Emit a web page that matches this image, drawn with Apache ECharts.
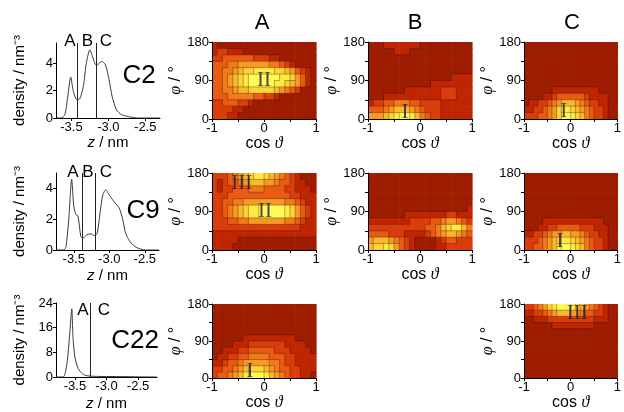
<!DOCTYPE html>
<html lang="en">
<head>
<meta charset="UTF-8">
<title>density profiles and orientation maps</title>
<script src="https://cdn.jsdelivr.net/npm/echarts@6/dist/echarts.min.js"></script>
<style>
  html, body { margin: 0; padding: 0; background: #fff; }
  #main { width: 624px; height: 412px; }
</style>
</head>
<body>
<div id="main"></div>
<script>
// density profiles: [z (nm), density (nm^-3)]
var densC2 = [[-3.71,0],[-3.64,0],[-3.59,0.24],[-3.55,1.6],[-3.51,3.0],[-3.48,2.1],[-3.44,1.4],[-3.40,1.35],
  [-3.34,2.3],[-3.30,4.0],[-3.25,5.0],[-3.21,4.4],[-3.16,3.85],[-3.09,4.15],[-3.04,3.9],[-2.99,2.8],
  [-2.95,1.6],[-2.89,0.6],[-2.82,0.24],[-2.71,0.08],[-2.60,0],[-2.30,0]];
var densC9 = [[-3.75,0],[-3.64,0],[-3.61,0.22],[-3.57,2.0],[-3.53,4.6],[-3.50,2.85],[-3.47,2.3],[-3.44,2.2],
  [-3.40,0.87],[-3.37,0.77],[-3.32,0.98],[-3.26,1.05],[-3.21,0.94],[-3.17,1.09],[-3.13,2.4],[-3.09,3.6],
  [-3.05,3.9],[-2.99,3.5],[-2.92,3.06],[-2.86,2.73],[-2.81,1.97],[-2.77,1.09],[-2.71,0.55],[-2.62,0.17],
  [-2.49,0],[-2.30,0]];
var densC22 = [[-3.80,0],[-3.69,0],[-3.66,0.74],[-3.62,5.4],[-3.58,14.7],[-3.55,22.1],[-3.53,12.6],[-3.50,6.4],
  [-3.45,2.8],[-3.38,1.03],[-3.31,0.41],[-3.16,0.2],[-2.84,0.15],[-2.48,0.05],[-2.20,0]];

// region borders along z
var bordersC2 = [-3.42, -3.16];
var bordersC9 = [-3.38, -3.20];
var bordersC22 = [-3.25];

var zTicks = [-3.5, -3.0, -2.5];
var cosLabels = [-1, 0, 1];
var cosTicks = [-1, -0.5, 0, 0.5, 1];
var phiLabels = [0, 90, 180];
var phiTicks = [0, 45, 90, 135, 180];

// orientation maps, contour level 0..9
// rows: phi 180 -> 0 in 15 deg steps, columns: cos theta -1 -> 1 in 0.1 steps
var mapC2A = [
  "10000000000000000000",
  "12211100000000000000",
  "22333333222110000000",
  "33344555555443210000",
  "33445677888877653210",
  "33456789999998875310",
  "33456789999988765310",
  "33445667777765432000",
  "33344444332210000000",
  "22333221000000000000",
  "22221100000000000000",
  "22211000000000000000"];
var mapC2B = [
  "00011111110000000000",
  "00000111000000000000",
  "00000000000000000000",
  "00000000000000000000",
  "00000000000000000000",
  "00000000000000001111",
  "00000000000011111111",
  "00000001111111222111",
  "00011111111111222111",
  "12233444332222111111",
  "33345666543222111111",
  "55567899864322111111"];
var mapC2C = [
  "00000000000000000000",
  "00000000000000000000",
  "00000000000000000000",
  "00000000000000000000",
  "00000000000000000000",
  "00000000000000000000",
  "00000000000000000000",
  "00000011111111110000",
  "00001123333332111100",
  "01122345666543221100",
  "11223457887654322100",
  "22233457998764322100"];
var mapC9A = [
  "22234567887654321000",
  "21233456665543321100",
  "21223334443333221110",
  "22233333333333322111",
  "22334455555555443211",
  "22345678899999875321",
  "22345678899999875321",
  "22233445555555443211",
  "22222222222222222111",
  "11111111111111111111",
  "11111000000000000000",
  "11110000000000000000"];
var mapC9B = [
  "00000000000000000000",
  "00000000000000000000",
  "00000000000000000000",
  "00000000000000000000",
  "00000000000000000000",
  "00000000000000000001",
  "00000001111111122111",
  "11111111222233455432",
  "22222222222334678864",
  "33332221111234566543",
  "56665432100001233222",
  "67787532100001122222"];
var mapC9C = [
  "00000000000000000000",
  "00000000000000000000",
  "00000000000000000000",
  "00000000000000000000",
  "00000000000000000000",
  "00000000000000000000",
  "00000000000000000000",
  "00001111111111111000",
  "00011223333322211100",
  "11223455665543221100",
  "22234567887654322100",
  "22334568998764322100"];
var mapC22A = [
  "00000000000000000000",
  "00000000000000000000",
  "00000000000000000000",
  "00000000000000000000",
  "00000000000000000000",
  "00000011111111110000",
  "00001112222222111100",
  "00111223333322211110",
  "01122334444333221111",
  "11233455555443221111",
  "22334567776543322111",
  "23345689998654322110"];
var mapC22C = [
  "22345789998765432100",
  "11223456665543322100",
  "00111222222222211100",
  "00000011111111100000",
  "00000000000000000000",
  "00000000000000000000",
  "00000000000000000000",
  "00000000000000000000",
  "00000000000000000000",
  "00000000000000000000",
  "00000000000000000000",
  "00000000000000000000"];

// state labels inside the maps: [cos theta, phi, label]
var statesC2A = [[0.0, 91, 'II']];
var statesC2B = [[-0.29, 15, 'I']];
var statesC2C = [[-0.15, 17, 'I']];
var statesC9A = [[-0.43, 156, 'III'], [0.02, 90, 'II']];
var statesC9B = [];
var statesC9C = [[-0.23, 19, 'I']];
var statesC22A = [[-0.27, 17, 'I']];
var statesC22C = [[0.14, 158, 'III']];

var palette = ['#9e1c00', '#bf2600', '#da3c0a', '#e95a12', '#f27a19', '#f79a22',
  '#fab82b', '#fdd336', '#feeb42', '#fffa58'];

var sans = 'Liberation Sans, Arial, sans-serif';
var serif = 'Liberation Serif, DejaVu Serif, serif';

var chart = echarts.init(document.getElementById('main'));

// one item per cell: [cos0, phi0, level, level to the right, level below]
function cells(rows) {
  var out = [];
  rows.forEach(function (row, r) {
    for (var c = 0; c < row.length; c++) {
      var right = c + 1 < row.length ? +row[c + 1] : +row[c];
      var below = r + 1 < rows.length ? +rows[r + 1][c] : +row[c];
      out.push([-1 + c * 0.1, 180 - (r + 1) * 15, +row[c], right, below]);
    }
  });
  return out;
}

function drawCell(params, api) {
  var a = api.coord([api.value(0), api.value(1) + 15]);
  var b = api.coord([api.value(0) + 0.1, api.value(1)]);
  var lev = api.value(2);
  var kids = [{
    type: 'rect',
    shape: { x: a[0], y: a[1], width: b[0] - a[0] + 0.6, height: b[1] - a[1] + 0.6 },
    style: { fill: palette[lev] }, z2: 1
  }];
  var edge = { stroke: 'rgba(40,10,0,0.55)', lineWidth: 0.6 };
  if (api.value(3) !== lev) {
    kids.push({ type: 'line', shape: { x1: b[0], y1: a[1], x2: b[0], y2: b[1] }, style: edge, z2: 5 });
  }
  if (api.value(4) !== lev) {
    kids.push({ type: 'line', shape: { x1: a[0], y1: b[1], x2: b[0], y2: b[1] }, style: edge, z2: 5 });
  }
  return { type: 'group', children: kids };
}

function axisBase(gi) {
  return {
    gridIndex: gi,
    type: 'value',
    axisLine: { show: true, onZero: false, lineStyle: { color: '#000', width: 1 } },
    axisTick: { show: true, length: 3, lineStyle: { color: '#000' } },
    axisLabel: { color: '#000', fontSize: 13, fontFamily: sans, margin: 3 },
    splitLine: { show: false },
    nameTextStyle: { color: '#000', fontSize: 15, fontFamily: sans },
    nameLocation: 'middle'
  };
}

var lineRows = [
  { data: densC2, borders: bordersC2, zMin: -3.71, zMax: -2.3, dMax: 5.5, dTicks: [0, 2, 4],
    box: { left: 56, top: 43, width: 104, height: 75 }, gap: 15 },
  { data: densC9, borders: bordersC9, zMin: -3.75, zMax: -2.3, dMax: 5, dTicks: [0, 2, 4],
    box: { left: 56, top: 173, width: 103, height: 77 }, gap: 18 },
  { data: densC22, borders: bordersC22, zMin: -3.80, zMax: -2.2, dMax: 24, dTicks: [0, 8, 16, 24],
    box: { left: 56, top: 303, width: 101, height: 78 }, gap: 19 }
];

var mapPanels = [
  { rows: mapC2A, states: statesC2A, row: 0, col: 0 },
  { rows: mapC2B, states: statesC2B, row: 0, col: 1 },
  { rows: mapC2C, states: statesC2C, row: 0, col: 2 },
  { rows: mapC9A, states: statesC9A, row: 1, col: 0 },
  { rows: mapC9B, states: statesC9B, row: 1, col: 1 },
  { rows: mapC9C, states: statesC9C, row: 1, col: 2 },
  { rows: mapC22A, states: statesC22A, row: 2, col: 0 },
  { rows: mapC22C, states: statesC22C, row: 2, col: 2 }
];
var mapTops = [42, 173, 304];
var mapHeights = [77, 77, 76];
var mapLefts = [212, 368, 524];
var cosGaps = [10, 11, 13];

var grids = [], xAxes = [], yAxes = [], series = [];

lineRows.forEach(function (L, i) {
  grids.push(L.box);
  xAxes.push(Object.assign(axisBase(i), {
    min: L.zMin, max: L.zMax,
    axisLabel: { color: '#000', fontSize: 13, fontFamily: sans, margin: 3,
      customValues: zTicks, formatter: function (v) { return v.toFixed(1); } },
    axisTick: { show: true, length: 3, lineStyle: { color: '#000' }, customValues: zTicks },
    name: '{i|z}{n| / nm}', nameGap: L.gap,
    nameTextStyle: { rich: {
      i: { fontSize: 15, fontFamily: sans, fontStyle: 'italic', color: '#000' },
      n: { fontSize: 15, fontFamily: sans, color: '#000' } } }
  }));
  yAxes.push(Object.assign(axisBase(i), {
    min: 0, max: L.dMax,
    axisLabel: { color: '#000', fontSize: 13, fontFamily: sans, margin: 3, customValues: L.dTicks },
    axisTick: { show: true, length: 3, lineStyle: { color: '#000' }, customValues: L.dTicks },
    name: 'density / nm\u207B\u00B3', nameRotate: 90, nameGap: 29
  }));
  series.push({
    type: 'line', xAxisIndex: i, yAxisIndex: i, data: L.data,
    showSymbol: false, smooth: 0.25,
    lineStyle: { color: '#3a3a3a', width: 1 },
    markLine: {
      silent: true, symbol: ['none', 'none'], label: { show: false },
      lineStyle: { color: '#222', width: 1, type: 'solid' },
      data: L.borders.map(function (b) { return { xAxis: b }; })
    }
  });
});

mapPanels.forEach(function (M, k) {
  var gi = 3 + k;
  grids.push({ left: mapLefts[M.col], top: mapTops[M.row], width: 104, height: mapHeights[M.row] });
  xAxes.push(Object.assign(axisBase(gi), {
    min: -1, max: 1,
    axisLabel: { color: '#000', fontSize: 13, fontFamily: sans, margin: 3, customValues: cosLabels },
    axisTick: { show: true, length: 3, lineStyle: { color: '#000' }, customValues: cosTicks },
    name: '{n|cos }{i|\u03D1}', nameGap: cosGaps[M.row],
    nameTextStyle: { rich: {
      n: { fontSize: 16, fontFamily: sans, color: '#000' },
      i: { fontSize: 16, fontFamily: serif, fontStyle: 'italic', color: '#000' } } },
    z: 5
  }));
  yAxes.push(Object.assign(axisBase(gi), {
    min: 0, max: 180,
    axisLabel: { color: '#000', fontSize: 13, fontFamily: sans, margin: 3, customValues: phiLabels },
    axisTick: { show: true, length: 3, lineStyle: { color: '#000' }, customValues: phiTicks },
    name: '{i|\u03C6}{n| / \u00B0}', nameRotate: 90, nameGap: 22,
    nameTextStyle: { rich: {
      i: { fontSize: 16, fontFamily: serif, fontStyle: 'italic', color: '#000' },
      n: { fontSize: 16, fontFamily: sans, color: '#000' } } },
    z: 5
  }));
  series.push({
    type: 'custom', xAxisIndex: gi, yAxisIndex: gi,
    renderItem: drawCell, data: cells(M.rows), silent: true, z: 1
  });
  if (M.states.length) {
    series.push({
      type: 'scatter', xAxisIndex: gi, yAxisIndex: gi, data: M.states,
      symbolSize: 1, itemStyle: { color: 'rgba(0,0,0,0)' }, silent: true, z: 4,
      label: { show: true, position: 'inside', color: '#151a3c',
        fontFamily: serif, fontSize: 21,
        formatter: function (p) { return p.data[2]; } }
    });
  }
});

function txt(x, y, s, size) {
  return { type: 'text', style: { x: x, y: y, text: s, fill: '#000',
    font: size + 'px ' + sans, align: 'center', verticalAlign: 'middle' }, z: 10 };
}

var graphics = [
  txt(262, 23, 'A', 22), txt(415, 23, 'B', 22), txt(572, 23, 'C', 22),
  txt(139, 76, 'C2', 26), txt(143, 211, 'C9', 26), txt(135, 341, 'C22', 26),
  txt(70, 41, 'A', 17), txt(87.5, 41, 'B', 17), txt(106, 41, 'C', 17),
  txt(73, 172, 'A', 17), txt(88, 172, 'B', 17), txt(106, 172, 'C', 17),
  txt(83, 310, 'A', 17), txt(104, 310, 'C', 17)
];

chart.setOption({
  animation: false,
  backgroundColor: '#fff',
  grid: grids,
  xAxis: xAxes,
  yAxis: yAxes,
  series: series,
  graphic: graphics
});
</script>
</body>
</html>
